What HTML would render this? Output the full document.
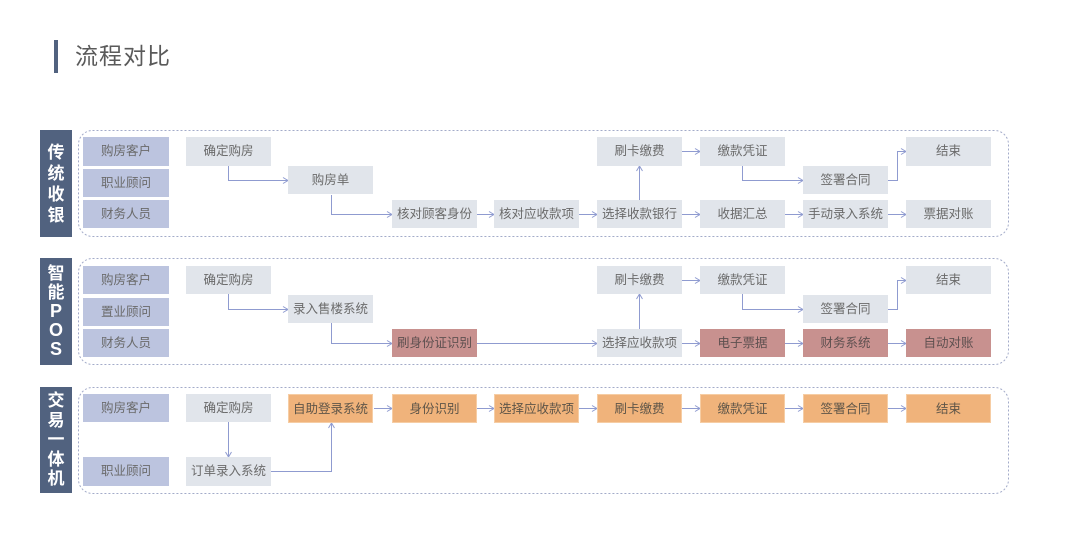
<!DOCTYPE html>
<html><head><meta charset="utf-8">
<style>
html,body{margin:0;padding:0;background:#fff;}
body{width:1080px;height:539px;position:relative;overflow:hidden;font-family:"Liberation Sans","Noto Sans CJK SC",sans-serif;}
.b{position:absolute;width:85px;height:29px;line-height:29px;text-align:center;font-size:12.5px;color:#6a6a6a;box-sizing:border-box;white-space:nowrap;}
.g{background:#e1e5eb;}
.r{background:#bcc4df;width:86px;}
.p{background:#c8918f;color:#5e5050;}
.o{background:#f0b37b;color:#5e5548;border:1px solid #f6cda4;}
.lab{position:absolute;left:40px;width:32px;background:#51627f;color:#fff;font-size:17px;font-weight:bold;text-align:center;display:flex;flex-direction:column;justify-content:center;align-items:center;line-height:21px;}
svg{position:absolute;left:0;top:0;}
</style></head><body>
<div style="position:absolute;left:54px;top:40px;width:4px;height:33px;background:#51627f;"></div>
<div style="position:absolute;left:75px;top:40px;font-size:23px;color:#5a5a5a;line-height:32px;letter-spacing:1px;">流程对比</div>

<svg width="1080" height="539">
<defs>
<marker id="a" markerWidth="8" markerHeight="8" refX="6" refY="3.5" orient="auto" markerUnits="userSpaceOnUse">
<path d="M1,0.5 L6,3.5 L1,6.5" fill="none" stroke="#8f9bd0" stroke-width="1"/>
</marker>
</defs>
<g fill="none" stroke="#a3abc9" stroke-width="1" stroke-dasharray="2 2">
<rect x="78.5" y="130.5" width="930" height="106" rx="14"/>
<rect x="78.5" y="258.5" width="930" height="106" rx="14"/>
<rect x="78.5" y="387.5" width="930" height="106" rx="14"/>
</g>
<g fill="none" stroke="#8f9bd0" stroke-width="1" marker-end="url(#a)">
<path d="M228.5,166 V180.5 H288"/>
<path d="M331.5,195 V214.5 H392"/>
<path d="M477,214.5 H494"/>
<path d="M579,214.5 H597"/>
<path d="M682,214.5 H700"/>
<path d="M785,214.5 H803"/>
<path d="M888,214.5 H906"/>
<path d="M639.5,200 V166"/>
<path d="M682,151.5 H700"/>
<path d="M742.5,166 V180.5 H803"/>
<path d="M888,180.5 H897.5 V151.5 H906"/>

<path d="M228.5,294 V309.5 H288"/>
<path d="M331.5,323 V343.5 H392"/>
<path d="M477,343.5 H597"/>
<path d="M682,343.5 H700"/>
<path d="M785,343.5 H803"/>
<path d="M888,343.5 H906"/>
<path d="M639.5,329 V294"/>
<path d="M682,280.5 H700"/>
<path d="M742.5,294 V309.5 H803"/>
<path d="M888,309.5 H897.5 V280.5 H906"/>

<path d="M228.5,422 V457"/>
<path d="M271,471.5 H331.5 V423"/>
<path d="M374,408.5 H392"/>
<path d="M477,408.5 H494"/>
<path d="M579,408.5 H597"/>
<path d="M682,408.5 H700"/>
<path d="M785,408.5 H803"/>
<path d="M888,408.5 H906"/>
</g>
</svg>

<!-- Section 1 -->
<div class="lab" style="top:130px;height:107px;"><span>传</span><span>统</span><span>收</span><span>银</span></div>
<div class="b r" style="left:83px;top:137px;">购房客户</div>
<div class="b r" style="left:83px;top:169px;height:28px;line-height:28px;">职业顾问</div>
<div class="b r" style="left:83px;top:200px;height:28px;line-height:28px;">财务人员</div>
<div class="b g" style="left:186px;top:137px;">确定购房</div>
<div class="b g" style="left:288px;top:166px;height:28px;line-height:28px;">购房单</div>
<div class="b g" style="left:392px;top:200px;height:28px;line-height:28px;">核对顾客身份</div>
<div class="b g" style="left:494px;top:200px;height:28px;line-height:28px;">核对应收款项</div>
<div class="b g" style="left:597px;top:200px;height:28px;line-height:28px;">选择收款银行</div>
<div class="b g" style="left:597px;top:137px;">刷卡缴费</div>
<div class="b g" style="left:700px;top:137px;">缴款凭证</div>
<div class="b g" style="left:803px;top:166px;height:28px;line-height:28px;">签署合同</div>
<div class="b g" style="left:906px;top:137px;">结束</div>
<div class="b g" style="left:700px;top:200px;height:28px;line-height:28px;">收据汇总</div>
<div class="b g" style="left:803px;top:200px;height:28px;line-height:28px;">手动录入系统</div>
<div class="b g" style="left:906px;top:200px;height:28px;line-height:28px;">票据对账</div>

<!-- Section 2 -->
<div class="lab" style="top:258px;height:107px;line-height:19px;"><span>智</span><span>能</span><span style="font-size:18px">P</span><span style="font-size:18px">O</span><span style="font-size:18px">S</span></div>
<div class="b r" style="left:83px;top:266px;height:28px;line-height:28px;">购房客户</div>
<div class="b r" style="left:83px;top:298px;height:28px;line-height:28px;">置业顾问</div>
<div class="b r" style="left:83px;top:329px;height:28px;line-height:28px;">财务人员</div>
<div class="b g" style="left:186px;top:266px;height:28px;line-height:28px;">确定购房</div>
<div class="b g" style="left:288px;top:295px;height:28px;line-height:28px;">录入售楼系统</div>
<div class="b p" style="left:392px;top:329px;height:28px;line-height:28px;">刷身份证识别</div>
<div class="b g" style="left:597px;top:329px;height:28px;line-height:28px;">选择应收款项</div>
<div class="b g" style="left:597px;top:266px;height:28px;line-height:28px;">刷卡缴费</div>
<div class="b g" style="left:700px;top:266px;height:28px;line-height:28px;">缴款凭证</div>
<div class="b g" style="left:803px;top:295px;height:28px;line-height:28px;">签署合同</div>
<div class="b g" style="left:906px;top:266px;height:28px;line-height:28px;">结束</div>
<div class="b p" style="left:700px;top:329px;height:28px;line-height:28px;">电子票据</div>
<div class="b p" style="left:803px;top:329px;height:28px;line-height:28px;">财务系统</div>
<div class="b p" style="left:906px;top:329px;height:28px;line-height:28px;">自动对账</div>

<!-- Section 3 -->
<div class="lab" style="top:387px;height:106px;line-height:19.5px;"><span>交</span><span>易</span><span>一</span><span>体</span><span>机</span></div>
<div class="b r" style="left:83px;top:394px;height:28px;line-height:28px;">购房客户</div>
<div class="b r" style="left:83px;top:457px;height:29px;">职业顾问</div>
<div class="b g" style="left:186px;top:394px;height:28px;line-height:28px;">确定购房</div>
<div class="b g" style="left:186px;top:457px;height:29px;">订单录入系统</div>
<div class="b o" style="left:288px;top:394px;">自助登录系统</div>
<div class="b o" style="left:392px;top:394px;">身份识别</div>
<div class="b o" style="left:494px;top:394px;">选择应收款项</div>
<div class="b o" style="left:597px;top:394px;">刷卡缴费</div>
<div class="b o" style="left:700px;top:394px;">缴款凭证</div>
<div class="b o" style="left:803px;top:394px;">签署合同</div>
<div class="b o" style="left:906px;top:394px;">结束</div>
</body></html>
